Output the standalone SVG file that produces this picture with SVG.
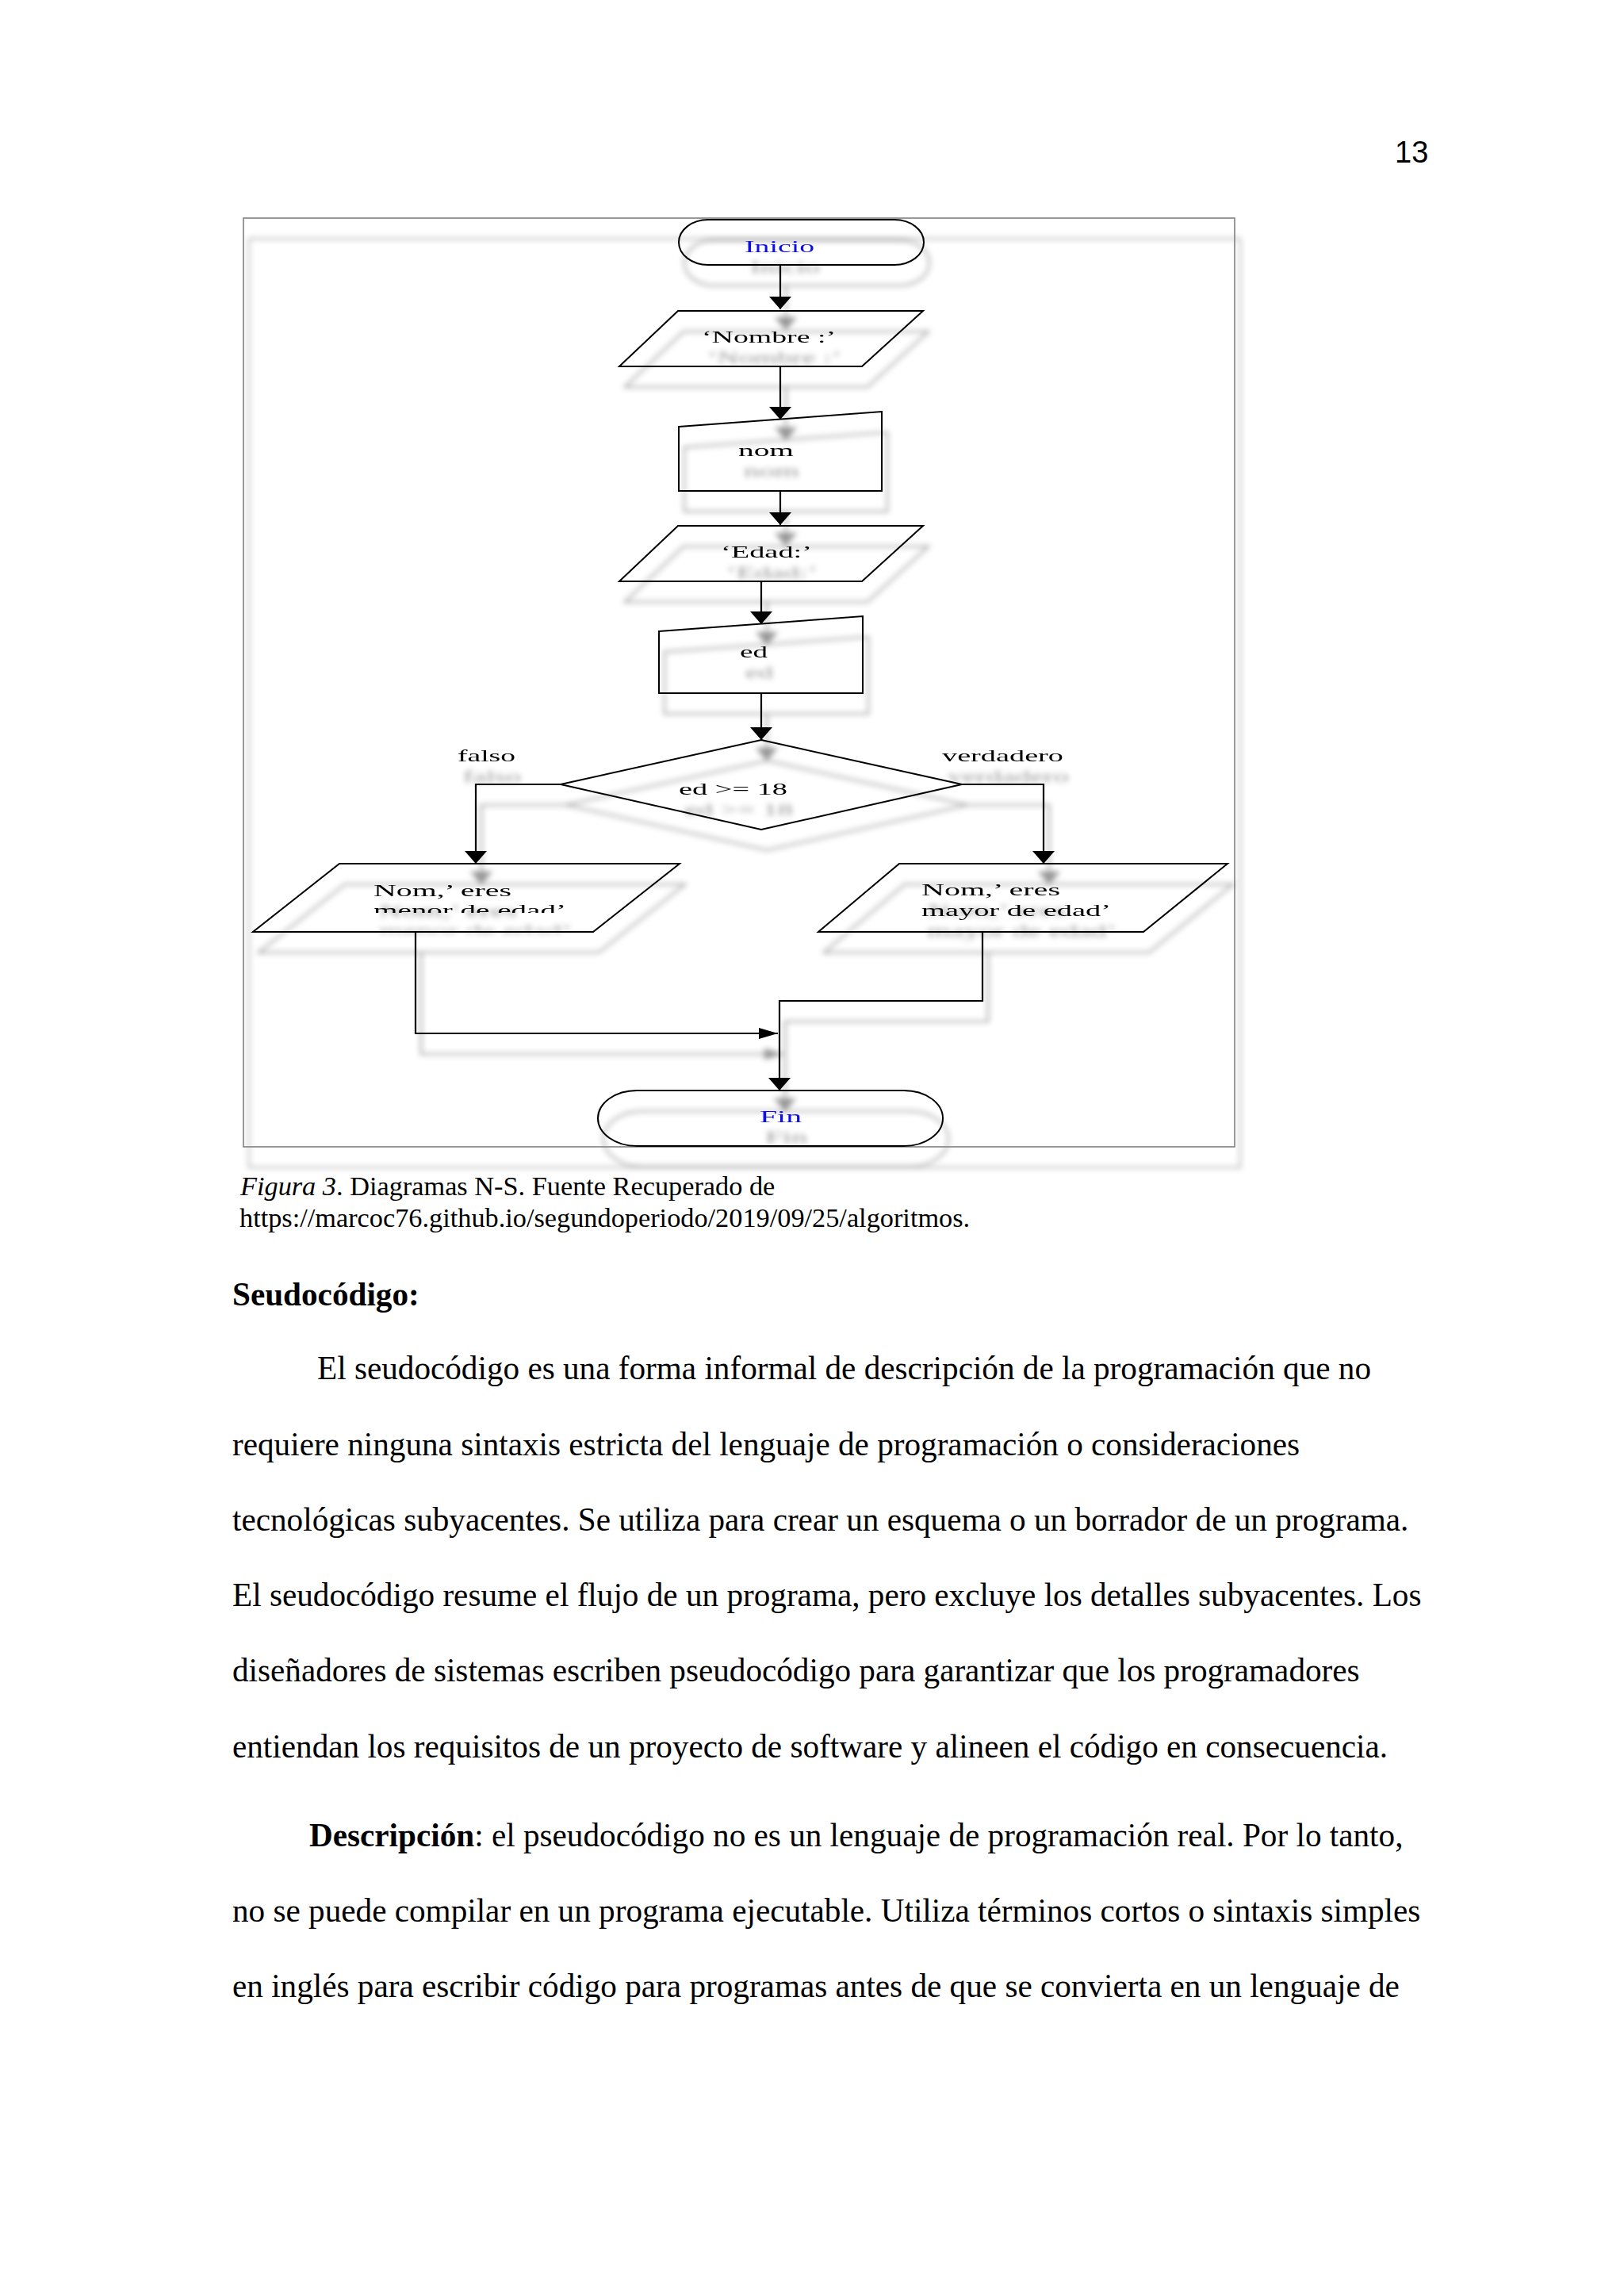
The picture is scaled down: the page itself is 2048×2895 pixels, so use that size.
<svg xmlns="http://www.w3.org/2000/svg" width="2048" height="2895" viewBox="0 0 2048 2895">
  <style>
    .shape { fill: none; stroke: #000; stroke-width: 2; }
    .frame { fill: none; stroke: #808080; stroke-width: 1.6; }
    .conn { fill: none; stroke: #000; stroke-width: 2.2; }
    .ft { font-family: "Liberation Serif", "Times New Roman", serif; font-size: 21px; fill: #000; }
    .blue { fill: #1010e6; }
    .body { font-family: "Liberation Serif", "Times New Roman", serif; font-size: 41.2px; fill: #000; }
    .cap { font-family: "Liberation Serif", "Times New Roman", serif; font-size: 34.3px; fill: #000; }
    .pg { font-family: "Liberation Sans", Arial, sans-serif; font-size: 38px; fill: #000; }
  </style>
  <defs>
    <marker id="arrV" markerUnits="userSpaceOnUse" viewBox="0 0 16 28" markerWidth="16" markerHeight="28" refX="16" refY="14" orient="auto">
      <path d="M0,0 L16,14 L0,28 Z" fill="#000"/>
    </marker>
    <marker id="arrH" markerUnits="userSpaceOnUse" viewBox="0 0 24 14" markerWidth="24" markerHeight="14" refX="24" refY="7" orient="auto">
      <path d="M0,0 L24,7 L0,14 Z" fill="#000"/>
    </marker>
    <filter id="sh" x="-5%" y="-5%" width="115%" height="115%">
      <feGaussianBlur in="SourceAlpha" stdDeviation="3.5" result="b"/>
      <feOffset in="b" dx="7" dy="26" result="o"/>
      <feColorMatrix in="o" type="matrix" values="0 0 0 0 0  0 0 0 0 0  0 0 0 0 0  0 0 0 0.42 0" result="s"/>
      <feMerge>
        <feMergeNode in="s"/>
        <feMergeNode in="SourceGraphic"/>
      </feMerge>
    </filter>
    <clipPath id="clipMenor">
      <rect x="300" y="1080" width="560" height="71"/>
    </clipPath>
  </defs>

  <rect width="2048" height="2895" fill="#fff"/>

  <text class="pg" x="1759" y="205">13</text>

  <g id="figure" filter="url(#sh)">
    <rect id="frame" class="frame" x="307" y="275" width="1250" height="1171"/>

    <g id="connectors">
      <path class="conn" d="M984,334 L984,390" marker-end="url(#arrV)"/>
      <path class="conn" d="M984,462 L984,529" marker-end="url(#arrV)"/>
      <path class="conn" d="M984,619 L984,662" marker-end="url(#arrV)"/>
      <path class="conn" d="M960,733 L960,787" marker-end="url(#arrV)"/>
      <path class="conn" d="M960,874 L960,933" marker-end="url(#arrV)"/>
      <path class="conn" d="M707,989 L600,989 L600,1089" marker-end="url(#arrV)"/>
      <path class="conn" d="M1213,989 L1316,989 L1316,1089" marker-end="url(#arrV)"/>
      <path class="conn" d="M524,1175 L524,1303 L981,1303" marker-end="url(#arrH)"/>
      <path class="conn" d="M1239,1175 L1239,1262 L983,1262 L983,1375" marker-end="url(#arrV)"/>
      <text class="ft" x="577" y="960" textLength="73" lengthAdjust="spacingAndGlyphs">falso</text>
      <text class="ft" x="1188" y="960" textLength="153" lengthAdjust="spacingAndGlyphs">verdadero</text>
    </g>

    <g id="inicio">
      <rect class="shape" x="856" y="277" width="309" height="57" rx="37" ry="28.5"/>
      <text class="ft blue" x="939" y="318" textLength="88" lengthAdjust="spacingAndGlyphs">Inicio</text>
    </g>

    <g id="nombre">
      <polygon class="shape" points="855,392 1164,392 1087,462 781,462"/>
      <text class="ft" x="885" y="432" textLength="169" lengthAdjust="spacingAndGlyphs">‘Nombre :’</text>
    </g>

    <g id="nom">
      <polygon class="shape" points="856,538 1112,519 1112,619 856,619"/>
      <text class="ft" x="931" y="575" textLength="70" lengthAdjust="spacingAndGlyphs">nom</text>
    </g>

    <g id="edad">
      <polygon class="shape" points="855,663 1164,663 1087,733 781,733"/>
      <text class="ft" x="909" y="703" textLength="115" lengthAdjust="spacingAndGlyphs">‘Edad:’</text>
    </g>

    <g id="ed">
      <polygon class="shape" points="831,796 1088,777 1088,874 831,874"/>
      <text class="ft" x="933" y="829" textLength="35" lengthAdjust="spacingAndGlyphs">ed</text>
    </g>

    <g id="decision">
      <polygon class="shape" points="960,933 1213,989 960,1046 707,989"/>
      <text class="ft" x="856" y="1002" textLength="137" lengthAdjust="spacingAndGlyphs">ed &gt;= 18</text>
    </g>

    <g id="menor">
      <polygon class="shape" points="428,1089 857,1089 748,1175 319,1175"/>
      <text class="ft" clip-path="url(#clipMenor)">
        <tspan x="471" y="1130" textLength="174" lengthAdjust="spacingAndGlyphs">Nom,’ eres</tspan>
        <tspan x="471" y="1155" textLength="243" lengthAdjust="spacingAndGlyphs">menor de edad’</tspan>
      </text>
    </g>

    <g id="mayor">
      <polygon class="shape" points="1134,1089 1548,1089 1442,1175 1032,1175"/>
      <text class="ft">
        <tspan x="1162" y="1129" textLength="175" lengthAdjust="spacingAndGlyphs">Nom,’ eres</tspan>
        <tspan x="1162" y="1155" textLength="239" lengthAdjust="spacingAndGlyphs">mayor de edad’</tspan>
      </text>
    </g>

    <g id="fin">
      <rect class="shape" x="754" y="1375" width="435" height="70" rx="49" ry="35"/>
      <text class="ft blue" x="958" y="1415" textLength="53" lengthAdjust="spacingAndGlyphs">Fin</text>
    </g>
  </g>

  <g id="caption">
    <text class="cap" x="303" y="1507"><tspan font-style="italic">Figura 3</tspan>. Diagramas N-S. Fuente Recuperado de</text>
    <text class="cap" x="302" y="1547">https://marcoc76.github.io/segundoperiodo/2019/09/25/algoritmos.</text>
  </g>

  <g id="text-body">
    <text class="body" x="293" y="1646" font-weight="bold">Seudocódigo:</text>
    <text class="body" x="400" y="1739">El seudocódigo es una forma informal de descripción de la programación que no</text>
    <text class="body" x="293" y="1834.5">requiere ninguna sintaxis estricta del lenguaje de programación o consideraciones</text>
    <text class="body" x="293" y="1930">tecnológicas subyacentes. Se utiliza para crear un esquema o un borrador de un programa.</text>
    <text class="body" x="293" y="2025">El seudocódigo resume el flujo de un programa, pero excluye los detalles subyacentes. Los</text>
    <text class="body" x="293" y="2120">diseñadores de sistemas escriben pseudocódigo para garantizar que los programadores</text>
    <text class="body" x="293" y="2216">entiendan los requisitos de un proyecto de software y alineen el código en consecuencia.</text>
    <text class="body" x="390" y="2328"><tspan font-weight="bold">Descripción</tspan>: el pseudocódigo no es un lenguaje de programación real. Por lo tanto,</text>
    <text class="body" x="293" y="2423">no se puede compilar en un programa ejecutable. Utiliza términos cortos o sintaxis simples</text>
    <text class="body" x="293" y="2518">en inglés para escribir código para programas antes de que se convierta en un lenguaje de</text>
  </g>
</svg>
